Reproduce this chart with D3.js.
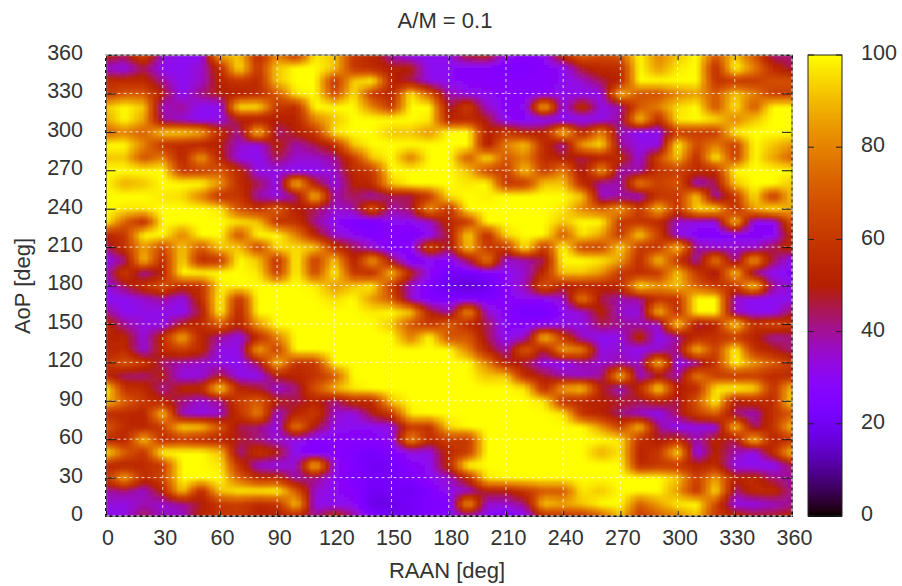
<!DOCTYPE html>
<html><head><meta charset="utf-8">
<script src="https://cdnjs.cloudflare.com/ajax/libs/d3/7.8.5/d3.min.js"></script>
<style>html,body{margin:0;padding:0;background:#fff}svg{display:block}text{font-family:"Liberation Sans",Arial,sans-serif;fill:#333}</style>
</head><body><svg id="c" width="902" height="586"></svg>
<script>
const title = "A/M = 0.1";
const xLabel = "RAAN [deg]";
const yLabel = "AoP [deg]";
const axisTicks = [0,30,60,90,120,150,180,210,240,270,300,330,360];
const colorTicks = [0,20,40,60,80,100];
const raan = d3.range(0,361,10);
const aopRows = [360,350,340,330,320,310,300,290,280,270,260,250,240,230,220,210,200,190,180,170,160,150,140,130,120,110,100,90,80,70,60,50,40,30,20,10,0];
const percent = [
[52,45,65,35,30,30,86,92,55,80,60,97,92,60,55,38,32,30,32,48,50,32,28,30,55,72,65,70,100,80,92,100,70,92,70,42,42],
[35,32,45,30,30,35,55,97,60,92,100,100,92,60,55,50,50,30,30,28,28,25,25,28,30,48,55,55,100,84,97,100,55,100,80,55,45],
[55,55,55,40,30,35,52,60,55,92,100,100,58,92,100,52,45,32,30,28,28,28,28,28,30,35,45,52,100,100,100,100,58,60,60,68,68],
[60,70,70,50,30,42,50,50,55,70,97,100,65,97,60,52,98,70,38,32,30,28,28,28,32,30,32,92,68,68,80,86,70,92,80,62,62],
[92,100,92,35,40,30,30,97,97,60,55,100,100,100,80,60,100,100,45,62,35,28,30,92,32,58,32,38,70,80,95,100,68,97,70,100,100],
[86,100,86,40,35,30,32,50,50,50,52,80,92,100,100,100,100,97,52,55,48,30,28,30,30,30,32,40,92,55,97,100,95,80,92,100,100],
[72,80,72,92,92,86,55,40,92,42,50,60,97,100,100,92,92,84,100,100,50,60,50,52,92,52,80,38,30,32,62,62,62,98,100,100,100],
[100,100,80,58,55,52,50,35,32,52,38,45,55,92,100,100,100,100,100,100,48,80,92,55,38,86,97,40,32,32,100,65,80,62,100,92,84],
[92,92,68,80,52,86,52,32,30,45,35,35,40,60,92,100,78,100,100,70,97,70,80,55,50,45,50,55,32,65,92,55,100,62,100,86,72],
[100,100,100,100,60,62,70,55,32,32,30,30,35,55,60,100,100,100,100,92,65,62,92,62,80,45,86,38,38,60,62,55,55,100,100,100,100],
[100,88,92,100,100,100,84,55,45,32,92,50,32,50,55,92,100,100,100,97,100,60,62,92,92,55,38,38,80,62,70,35,45,92,100,100,92],
[100,100,100,97,95,80,58,60,38,32,42,92,38,45,38,45,45,62,97,100,98,100,100,100,100,92,35,38,35,60,60,92,35,60,97,60,92],
[100,97,97,100,100,100,97,68,58,72,50,45,35,38,70,38,45,84,58,100,100,100,100,100,97,80,72,86,60,92,58,95,95,55,86,97,86],
[100,72,55,100,100,100,100,97,92,58,58,40,30,25,22,30,30,35,55,60,100,100,100,100,92,100,100,60,58,55,35,32,32,92,30,30,70],
[52,60,100,100,80,100,100,68,100,100,80,52,35,30,25,28,25,30,48,95,55,95,100,100,70,97,86,60,95,62,32,28,26,28,28,28,55],
[42,58,86,65,92,70,92,92,65,95,95,92,58,45,35,25,28,65,45,92,60,60,97,60,100,65,65,95,60,60,92,38,35,35,35,45,55],
[30,42,92,55,95,55,60,100,92,58,100,62,92,50,86,45,25,30,28,45,80,35,38,45,100,100,97,86,55,92,58,38,80,38,86,45,30],
[35,62,38,50,100,100,100,100,97,62,100,65,100,60,55,92,52,30,22,22,25,30,35,55,92,92,84,60,55,60,92,60,45,92,40,30,28],
[32,45,58,70,55,58,97,100,100,100,100,98,84,92,98,60,35,25,18,15,18,28,38,70,50,52,52,55,97,84,92,72,60,60,95,40,32],
[30,30,35,40,32,55,100,58,100,100,100,100,95,100,84,70,35,25,25,25,25,28,30,30,35,80,45,38,40,58,58,100,100,35,30,30,30],
[42,30,32,32,30,48,100,52,100,100,100,100,100,100,97,100,92,50,38,84,35,28,22,22,30,35,52,35,32,92,55,100,100,35,30,30,45],
[55,40,33,32,50,55,72,52,84,100,100,100,100,100,100,92,70,60,72,55,45,28,28,30,32,32,45,40,38,35,95,45,52,95,58,65,60],
[52,52,33,55,88,52,40,32,55,80,100,100,100,100,100,100,78,100,68,70,45,30,35,92,60,35,30,32,55,30,40,55,58,62,52,40,42],
[52,55,33,55,62,55,32,32,88,62,100,100,100,100,100,100,100,100,100,80,52,38,72,48,86,80,32,35,30,35,42,92,62,100,58,50,42],
[58,70,60,42,38,35,32,30,45,92,58,60,100,100,100,100,100,100,100,100,80,50,45,32,30,38,35,38,35,92,30,38,60,100,84,72,60],
[52,42,42,50,32,33,48,32,30,50,52,58,70,100,100,100,100,100,100,100,92,92,55,48,38,35,40,92,35,45,38,80,62,60,62,55,55],
[100,58,55,40,52,55,95,52,48,35,42,68,88,97,100,100,100,100,100,100,100,100,97,55,86,92,50,35,55,97,50,55,97,100,95,58,92],
[92,72,60,52,42,35,40,62,72,50,45,52,42,55,55,92,100,100,100,100,100,100,100,97,58,55,50,48,45,52,45,70,100,50,55,55,95],
[55,55,52,92,35,32,35,58,80,35,52,62,35,32,48,60,98,100,100,100,100,100,100,100,97,58,52,42,35,30,45,62,72,42,36,58,70],
[72,55,52,62,95,92,70,45,42,32,80,48,32,30,30,32,62,58,95,100,100,100,100,100,100,100,84,62,92,40,30,32,32,92,42,58,92],
[55,52,92,55,60,55,52,48,42,35,32,28,28,28,28,30,84,55,62,60,100,100,100,100,100,100,100,97,58,48,55,38,52,45,92,52,58],
[98,72,58,100,100,100,92,40,58,50,30,25,28,25,22,25,32,32,55,62,100,100,100,100,100,100,88,97,52,60,95,30,52,38,30,55,92],
[55,52,55,62,100,100,97,58,35,32,35,92,32,25,20,22,28,30,55,100,100,100,100,100,100,100,100,100,55,60,60,50,55,32,30,30,45],
[58,88,55,65,100,100,100,72,55,55,38,42,30,25,22,22,25,30,35,55,97,100,100,100,100,100,100,100,100,100,92,62,86,52,55,42,38],
[38,42,35,52,92,55,92,98,98,100,70,35,30,28,20,22,20,25,32,35,50,50,60,70,70,97,92,100,100,100,84,58,97,42,55,55,40],
[35,32,38,35,40,48,60,62,55,58,92,32,30,30,18,18,22,25,25,86,35,35,42,92,86,92,100,100,72,86,97,100,65,32,32,36,40],
[30,32,45,35,35,52,58,60,50,50,55,40,55,40,25,20,20,25,28,38,30,25,30,55,60,60,72,92,60,72,80,92,60,55,48,48,52]
];
percent.forEach((r,i)=>{ if(r.length!==37) throw new Error("row "+i+" len "+r.length); });
if(percent.length!==37) throw new Error("rows "+percent.length);

const plot = {l:105.5,r:792,t:55,b:516};
const bar = {l:808,r:842};
const x = d3.scaleLinear().domain([0,360]).range([plot.l,plot.r]);
const y = d3.scaleLinear().domain([0,360]).range([plot.b,plot.t]);
const cy = d3.scaleLinear().domain([0,100]).range([plot.b,plot.t]);
// gnuplot default pm3d palette (rgbformulae 7,5,15)
const palette = v => { const t=Math.max(0,Math.min(1,v/100));
  return d3.rgb(255*Math.sqrt(t),255*t*t*t,255*Math.max(0,Math.sin(2*Math.PI*t))).formatRgb(); };
const svg = d3.select("#c");
const sub = 4, cell = raan[1]-raan[0];
const value = (r,c)=> percent[36-r][c];
const samples=[];
for(let r=0;r<36;r++)for(let c=0;c<36;c++)for(let j=0;j<sub;j++)for(let i=0;i<sub;i++){
  const u=(i+.5)/sub,w=(j+.5)/sub;
  samples.push({a0:raan[c]+i*cell/sub,a1:raan[c]+(i+1)*cell/sub,b0:raan[r]+j*cell/sub,b1:raan[r]+(j+1)*cell/sub,
    v:value(r,c)*(1-u)*(1-w)+value(r,c+1)*u*(1-w)+value(r+1,c)*(1-u)*w+value(r+1,c+1)*u*w});
}
svg.append("defs").html('<filter id="soft" x="0" y="0" width="1" height="1"><feGaussianBlur stdDeviation="0.9" edgeMode="duplicate"/></filter>');
svg.append("g").attr("filter","url(#soft)").attr("shape-rendering","crispEdges")
  .selectAll("rect").data(samples).join("rect")
  .attr("x",d=>x(d.a0)).attr("width",d=>x(d.a1)-x(d.a0)+.6)
  .attr("y",d=>y(d.b1)).attr("height",d=>y(d.b0)-y(d.b1)+.6)
  .attr("fill",d=>palette(d.v));
// grid
const grid=svg.append("g").attr("stroke","#fff").attr("stroke-opacity",.75).attr("stroke-width",1).attr("stroke-dasharray","3,3");
grid.selectAll(".gx").data(axisTicks.slice(1,-1)).join("line").attr("x1",d=>x(d)).attr("x2",d=>x(d)).attr("y1",plot.t).attr("y2",plot.b);
grid.selectAll(".gy").data(axisTicks.slice(1,-1)).join("line").attr("y1",d=>y(d)).attr("y2",d=>y(d)).attr("x1",plot.l).attr("x2",plot.r);
// axes
const tickFont=21.5;
const ax=d3.axisBottom(x).tickValues(axisTicks).tickSize(-5).tickPadding(14).tickFormat(d3.format("d"));
const ay=d3.axisLeft(y).tickValues(axisTicks).tickSize(-10).tickPadding(22.5).tickFormat(d3.format("d"));
const gx=svg.append("g").attr("transform",`translate(0,${plot.b})`).call(ax);
const gy=svg.append("g").attr("transform",`translate(${plot.l},0)`).call(ay);
const axR=d3.axisRight(y).tickValues(axisTicks).tickSize(-10).tickFormat("");
svg.append("g").attr("transform",`translate(${plot.r},0)`).call(axR).select(".domain").remove();
const axT=d3.axisTop(x).tickValues(axisTicks).tickSize(-5).tickFormat("");
svg.append("g").attr("transform",`translate(0,${plot.t})`).call(axT).select(".domain").remove();
svg.selectAll(".domain").attr("stroke","#111");
svg.selectAll(".tick line").attr("stroke","#111");
svg.selectAll(".tick text").style("font-size",tickFont+"px").style("font-family",'"Liberation Sans"').attr("fill","#333");
gx.selectAll(".tick text").attr("x",2);
gy.selectAll(".tick text").attr("y",-2.4);
svg.append("rect").attr("x",plot.l).attr("y",plot.t).attr("width",plot.r-plot.l).attr("height",plot.b-plot.t).attr("fill","none").attr("stroke","#111");
svg.append("rect").attr("x",plot.l).attr("y",plot.t).attr("width",plot.r-plot.l).attr("height",plot.b-plot.t).attr("fill","none").attr("stroke","#fff").attr("stroke-dasharray","3,3");
// colorbar
svg.append("g").attr("shape-rendering","crispEdges").selectAll("rect").data(d3.range(0,100,0.25)).join("rect")
  .attr("x",bar.l).attr("width",bar.r-bar.l).attr("y",d=>cy(d+.25)).attr("height",d=>cy(d)-cy(d+.25)+.5).attr("fill",d=>palette(d));
svg.append("rect").attr("x",bar.l).attr("y",plot.t).attr("width",bar.r-bar.l).attr("height",plot.b-plot.t).attr("fill","none").attr("stroke","#222");
const gc=svg.append("g").selectAll("g").data(colorTicks).join("g");
gc.append("line").attr("x1",bar.l).attr("x2",bar.l+6).attr("y1",d=>cy(d)).attr("y2",d=>cy(d)).attr("stroke","#222");
gc.append("line").attr("x1",bar.r-6).attr("x2",bar.r).attr("y1",d=>cy(d)).attr("y2",d=>cy(d)).attr("stroke","#222");
gc.append("text").attr("x",861).attr("y",d=>cy(d)-2.6).attr("dy","0.36em").style("font-size",tickFont+"px").text(d=>d);
// labels
svg.append("text").attr("x",445).attr("y",28).attr("text-anchor","middle").style("font-size","22px").text(title);
svg.append("text").attr("x",447).attr("y",578).attr("text-anchor","middle").style("font-size","22px").text(xLabel);
svg.append("text").attr("transform","translate(29.5,286) rotate(-90)").attr("text-anchor","middle").style("font-size","22px").text(yLabel);
</script></body></html>
